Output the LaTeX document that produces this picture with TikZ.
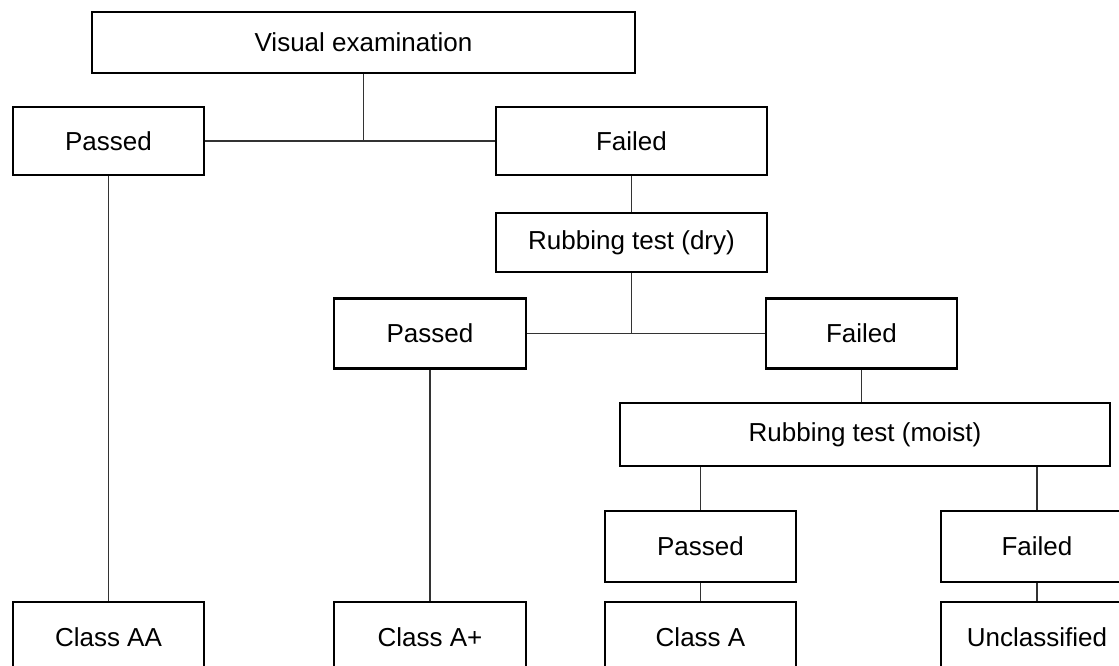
\documentclass[tikz,border=0pt]{standalone}
\usepackage{fontspec}
\setmainfont{Liberation Sans}

\begin{document}
\begin{tikzpicture}[x=1pt, y=-1pt,
    box/.style={draw, line width=2.6pt, inner sep=0pt, font=\fontsize{26}{30}\selectfont},
    link/.style={line width=1.4pt, black!80}]
      \useasboundingbox (0, 0) rectangle (1119, 666);

      \node [box, minimum width=543pt, minimum height=61pt] (visual) at (363.5, 42.5) {Visual examination};

      \node [box, minimum width=191pt, minimum height=68pt] (passA) at (108.5, 141) {Passed};
      \node [box, minimum width=271pt, minimum height=68pt] (failA) at (631.5, 141) {Failed};

      \node [box, minimum width=271pt, minimum height=59pt] (dry) at (631.5, 242.5) {Rubbing test (dry)};

      \node [box, minimum width=192pt, minimum height=70pt] (passB) at (430, 333.5) {Passed};
      \node [box, minimum width=191pt, minimum height=70pt] (failB) at (861.5, 333.5) {Failed};

      \node [box, minimum width=490pt, minimum height=63pt] (moist) at (865, 434.5) {Rubbing test (moist)};

      \node [box, minimum width=191pt, minimum height=71pt] (passC) at (700.5, 546.5) {Passed};
      \node [box, minimum width=192pt, minimum height=71pt] (failC) at (1037, 546.5) {Failed};

      \node [box, minimum width=191pt, minimum height=70pt] (classAA) at (108.5, 637) {Class AA};
      \node [box, minimum width=192pt, minimum height=70pt] (classAplus) at (430, 637) {Class A+};
      \node [box, minimum width=191pt, minimum height=70pt] (classA) at (700.5, 637) {Class A};
      \node [box, minimum width=192pt, minimum height=70pt] (uncl) at (1037, 637) {Unclassified};

      % branches
      \draw [link] (visual.south) -- (visual.south |- passA.east);
      \draw [link] (passA.east) -- (failA.west);
      \draw [link] (failA.south) -- (dry.north);
      \draw [link] (dry.south) -- (dry.south |- passB.east);
      \draw [link] (passB.east) -- (failB.west);
      \draw [link] (failB.south) -- (failB.south |- moist.north);
      \draw [link] (passC.north |- moist.south) -- (passC.north);
      \draw [link] (failC.north |- moist.south) -- (failC.north);

      % results
      \draw [link] (passA.south) -- (classAA.north);
      \draw [link] (passB.south) -- (classAplus.north);
      \draw [link] (passC.south) -- (classA.north);
      \draw [link] (failC.south) -- (uncl.north);
    \end{tikzpicture}
\end{document}
